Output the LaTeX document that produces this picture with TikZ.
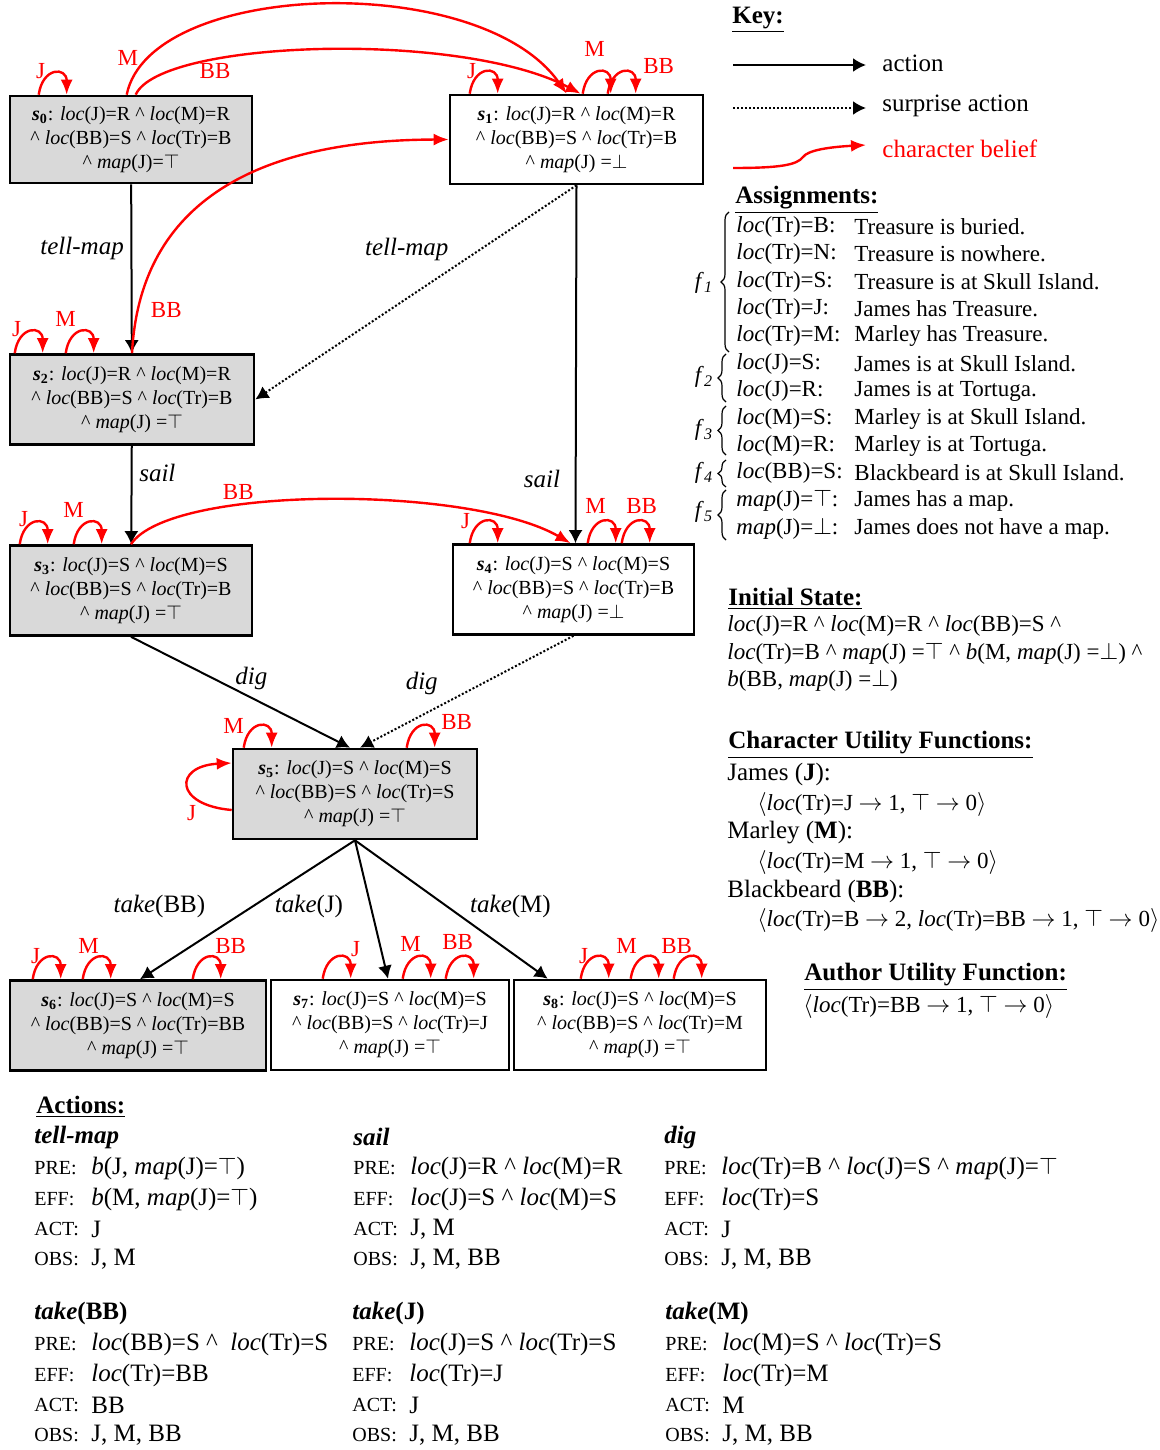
\documentclass[tikz,border=0pt]{standalone}
\usepackage{fontspec}
\setmainfont{Liberation Serif}
\usetikzlibrary{arrows.meta,calc,decorations.pathreplacing}

\newcommand{\Loc}{\textit{loc}}
\newcommand{\Map}{\textit{map}}
\newcommand{\An}{\textasciicircum}
\newcommand{\St}[1]{\textbf{\textit{s}}$_{\mathbf{#1}}$}
\newcommand{\Sc}[1]{{\fontsize{10}{10}\selectfont #1}}
\newcommand{\To}{$\rightarrow$}

\begin{document}
\begin{tikzpicture}[x=0.5pt, y=-0.5pt,
   state/.style={draw, line width=1.3pt, minimum height=45pt, align=center, inner sep=0pt, font=\fontsize{10}{12}\selectfont},
   seen/.style={state, fill=gray!30},
   act/.style={line width=1pt, -{Latex[length=6.5pt,width=7pt]}},
   surprise/.style={act, dash pattern=on 1pt off 1pt},
   belief/.style={red, line width=1.2pt, -{Latex[length=7.5pt,width=6pt]}},
   lab/.style={font=\fontsize{12.5}{14}\selectfont},
   who/.style={red, inner sep=0pt, font=\fontsize{11.5}{12}\selectfont},
   title/.style={anchor=west, inner sep=0pt, font=\fontsize{12.5}{14}\selectfont\bfseries},
   txt/.style={anchor=west, inner sep=0pt, font=\fontsize{11.5}{13.75}\selectfont},
   big/.style={anchor=west, inner sep=0pt, font=\fontsize{12.5}{14}\selectfont}
]
\path[use as bounding box, fill=white] (0,0) rectangle (1160,1450);

% states
\node[seen, minimum width=121pt, minimum height=43.5pt] (s0) at (131,139.5) {\St0: \Loc(J)=R \An{} \Loc(M)=R\\\An{} \Loc(BB)=S \An{} \Loc(Tr)=B\\\An{} \Map(J)=$\top$};
\node[state, minimum width=126.5pt, minimum height=44.5pt] (s1) at (576.5,139.5) {\St1: \Loc(J)=R \An{} \Loc(M)=R\\\An{} \Loc(BB)=S \An{} \Loc(Tr)=B\\\An{} \Map(J) =$\bot$};
\node[seen, minimum width=122pt] (s2) at (132,399.5) {\St2: \Loc(J)=R \An{} \Loc(M)=R\\\An{} \Loc(BB)=S \An{} \Loc(Tr)=B\\\An{} \Map(J) =$\top$};
\node[seen, minimum width=121pt] (s3) at (131,590.5) {\St3: \Loc(J)=S \An{} \Loc(M)=S\\\An{} \Loc(BB)=S \An{} \Loc(Tr)=B\\\An{} \Map(J) =$\top$};
\node[state, minimum width=120.5pt] (s4) at (573.5,589.5) {\St4: \Loc(J)=S \An{} \Loc(M)=S\\\An{} \Loc(BB)=S \An{} \Loc(Tr)=B\\\An{} \Map(J) =$\bot$};
\node[seen, minimum width=122pt] (s5) at (355,794) {\St5: \Loc(J)=S \An{} \Loc(M)=S\\\An{} \Loc(BB)=S \An{} \Loc(Tr)=S\\\An{} \Map(J) =$\top$};
\node[seen, minimum width=128pt] (s6) at (138,1025.5) {\St6: \Loc(J)=S \An{} \Loc(M)=S\\\An{} \Loc(BB)=S \An{} \Loc(Tr)=BB\\\An{} \Map(J) =$\top$};
\node[state, minimum width=119pt] (s7) at (390,1025) {\St7: \Loc(J)=S \An{} \Loc(M)=S\\\An{} \Loc(BB)=S \An{} \Loc(Tr)=J\\\An{} \Map(J) =$\top$};
\node[state, minimum width=126pt] (s8) at (640,1025) {\St8: \Loc(J)=S \An{} \Loc(M)=S\\\An{} \Loc(BB)=S \An{} \Loc(Tr)=M\\\An{} \Map(J) =$\top$};

% actions
\draw[act] (s0) -- node[lab, pos=0.38, left] {\textit{tell-map}} (s2);
\draw[surprise] (s1.south) -- node[lab, pos=0.3, left=12pt] {\textit{tell-map}} (s2.east);
\draw[act] (s1.south) -- node[lab, pos=0.82, left=4pt] {\textit{sail}} ($(s4.north)+(2,0)$);
\draw[act] (s2) -- node[lab, pos=0.28, right] {\textit{sail}} (s3);
\draw[act] (s3.south) -- node[lab, pos=0.55, above] {\textit{dig}} ($(s5.north)+(-5,0)$);
\draw[surprise] (s4.south) -- node[lab, pos=0.6, above left] {\textit{dig}} ($(s5.north)+(5,0)$);
\draw[act] (s5.south) -- node[lab, pos=0.475, left=20pt] {\textit{take}(BB)} ($(s6.north)+(2,0)$);
\draw[act] (s5.south) -- node[lab, pos=0.475, left=10pt] {\textit{take}(J)} ($(s7.north)+(-2,0)$);
\draw[act] (s5.south) -- node[lab, pos=0.475, right=8pt] {\textit{take}(M)} ($(s8.north west)+(35,0)$);

% beliefs
\draw[belief] ($(s0.north west)+(118,0)$) .. controls (150,-20) and (480,-30) .. ($(s1.north west)+(118,0)$) node[who, pos=0.12, left=4pt] (b01m) {M};
\draw[belief] ($(s0.north west)+(127,0)$) .. controls (160,40) and (460,30) .. ($(s1.north west)+(132,0)$) node[who, pos=0.25, below right] (b01bb) {BB};
\draw[belief] (s2.north) .. controls (140,200) and (260,140) .. (s1.west) node[who, pos=0.1, right=6pt] (b21bb) {BB};
\draw[belief] (s3.north) .. controls (170,485) and (470,485) .. ($(s4.north)+(-3,0)$) node[who, pos=0.33, above=2pt] (b34bb) {BB};
\draw[belief] ($(s5.west)+(0,16)$) .. controls +(-58,-5) and +(-58,3) .. ($(s5.west)+(0,-31)$) node[who] (b55j) at ($(s5.west)+(-40,19)$) {J};
\foreach \State/\Dx/\Who/\Lx/\Ly in {s0/30/J/2/-24, s1/21/J/2/-23, s1/134/M/12/-45, s1/159/BB/51/-28,
   s2/6/J/2/-24, s2/57/M/0/-34, s3/11/J/4/-25, s3/65/M/0/-34,
   s4/18/J/-4/-22, s4/136/M/8/-37, s4/170/BB/20/-37, s5/12/M/-10/-22, s5/175/BB/50/-26,
   s6/24/J/3/-23, s6/74/M/6/-33, s6/184/BB/38/-33, s7/53/J/33/-30, s7/133/M/8/-35, s7/176/BB/12/-37,
   s8/68/J/3/-23, s8/118/M/-4/-33, s8/161/BB/3/-33}
  \draw[belief] ($(\State.north west)+(\Dx,0)$) .. controls +(4,-28) and +(0,-28) .. ++(28,0)
     node[who] (\State-\Who) at ($(\State.north west)+(\Dx+\Lx,\Ly)$) {\Who};

% key
\node[title] (key) at (732,20) {\underline{Key:}};
\node[big] (kact) at (882,63) {action};
\node[big] (ksur) at (882,106) {surprise action};
\node[big, red] (kbel) at (882,149) {character belief};
\coordinate (k1) at (733,65);
\coordinate (k2) at (733,108);
\coordinate (k3) at (733,168);
\draw[act, shorten >=8pt] (k1) -- (k1 -| kact.west);
\draw[surprise, shorten >=8pt] (k2) -- (k2 -| ksur.west);
\draw[belief] (k3) .. controls (780,168) and (797,165) .. (803,157) .. controls (808,150) and (830,147) .. ($(kbel.west)+(-16,-4)$);

% assignments
\node[title] (asg) at (735,200) {\underline{Assignments:}};
\foreach \Y/\A/\D in {227/{\Loc(Tr)=B:}/{Treasure is buried.}, 254/{\Loc(Tr)=N:}/{Treasure is nowhere.},
   282/{\Loc(Tr)=S:}/{Treasure is at Skull Island.}, 309/{\Loc(Tr)=J:}/{James has Treasure.},
   336/{\Loc(Tr)=M:}/{Marley has Treasure.}, 364/{\Loc(J)=S:}/{James is at Skull Island.},
   391/{\Loc(J)=R:}/{James is at Tortuga.}, 419/{\Loc(M)=S:}/{Marley is at Skull Island.},
   446/{\Loc(M)=R:}/{Marley is at Tortuga.}, 473/{\Loc(BB)=S:}/{Blackbeard is at Skull Island.},
   501/{\Map(J)=$\top$:}/{James has a map.}, 529/{\Map(J)=$\bot$:}/{James does not have a map.}}
{
  \node[txt] (a\Y) at (736,\Y) {\A};
  \node[txt] (d\Y) at (854,\Y) {\D};
}
\foreach \Ya/\Yb/\Xb/\F/\Fy in {212/352/729/1/283, 354/402/726/2/377, 406/455/726/3/430, 460/487/726/4/473, 490/540/726/5/512}
{
  \draw[decorate, decoration={brace, amplitude=4pt}, line width=0.6pt] (\Xb,\Yb) -- (\Xb,\Ya);
  \node[txt, anchor=center] (f\F) at (704,\Fy) {\textit{f}\textsubscript{\textit{\F}}};
}

% initial state and utilities
\node[title] (ini) at (728,599) {\underline{Initial State:}};
\node[txt] (i1) at (727,626) {\Loc(J)=R \An{} \Loc(M)=R \An{} \Loc(BB)=S \An};
\node[txt] (i2) at (727,654) {\Loc(Tr)=B \An{} \Map(J) =$\top$ \An{} \textit{b}(M, \Map(J) =$\bot$) \An};
\node[txt] (i3) at (727,681) {\textit{b}(BB, \Map(J) =$\bot$)};
\node[title] (cuf) at (728,745) {\underline{Character Utility Functions:}};
\node[big] (uj) at (727,774) {James (\textbf{J}):};
\node[txt] (ujf) at (757,804) {$\langle$\Loc(Tr)=J \To{} 1, $\top$ \To{} 0$\rangle$};
\node[big] (um) at (727,833) {Marley (\textbf{M}):};
\node[txt] (umf) at (757,862) {$\langle$\Loc(Tr)=M \To{} 1, $\top$ \To{} 0$\rangle$};
\node[big] (ub) at (727,891) {Blackbeard (\textbf{BB}):};
\node[txt] (ubf) at (757,920) {$\langle$\Loc(Tr)=B \To{} 2, \Loc(Tr)=BB \To{} 1, $\top$ \To{} 0$\rangle$};
\node[title] (auf) at (804,977) {\underline{Author Utility Function:}};
\node[txt] (uaf) at (803,1006) {$\langle$\Loc(Tr)=BB \To{} 1, $\top$ \To{} 0$\rangle$};

% action list
\node[title] (acts) at (36,1107) {\underline{Actions:}};
\foreach \X/\Y/\N/\P/\E/\C/\O in {
   34/1137/{\textit{tell-map}}/{\textit{b}(J, \Map(J)=$\top$)}/{\textit{b}(M, \Map(J)=$\top$)}/{J}/{J, M},
   353/1137/{\textit{sail}}/{\Loc(J)=R \An{} \Loc(M)=R}/{\Loc(J)=S \An{} \Loc(M)=S}/{J, M}/{J, M, BB},
   664/1137/{\textit{dig}}/{\Loc(Tr)=B \An{} \Loc(J)=S \An{} \Map(J)=$\top$}/{\Loc(Tr)=S}/{J}/{J, M, BB},
   34/1313/{\textit{take}(BB)}/{\Loc(BB)=S \An{}~ \Loc(Tr)=S}/{\Loc(Tr)=BB}/{BB}/{J, M, BB},
   352/1313/{\textit{take}(J)}/{\Loc(J)=S \An{} \Loc(Tr)=S}/{\Loc(Tr)=J}/{J}/{J, M, BB},
   665/1313/{\textit{take}(M)}/{\Loc(M)=S \An{} \Loc(Tr)=S}/{\Loc(Tr)=M}/{M}/{J, M, BB}}
{
  \node[big, font=\fontsize{12.5}{14}\selectfont\bfseries] (n\X-\Y) at (\X,\Y) {\N};
  \node[big] (pre\X-\Y) at (\X,\Y+31) {\Sc{PRE:}};
  \node[big] (p\X-\Y) at (\X+57,\Y+31) {\P};
  \node[big] (eff\X-\Y) at (\X,\Y+62) {\Sc{EFF:}};
  \node[big] (e\X-\Y) at (\X+57,\Y+62) {\E};
  \node[big] (act\X-\Y) at (\X,\Y+92) {\Sc{ACT:}};
  \node[big] (c\X-\Y) at (\X+57,\Y+92) {\C};
  \node[big] (obs\X-\Y) at (\X,\Y+122) {\Sc{OBS:}};
  \node[big] (o\X-\Y) at (\X+57,\Y+122) {\O};
}
\end{tikzpicture}
\end{document}
